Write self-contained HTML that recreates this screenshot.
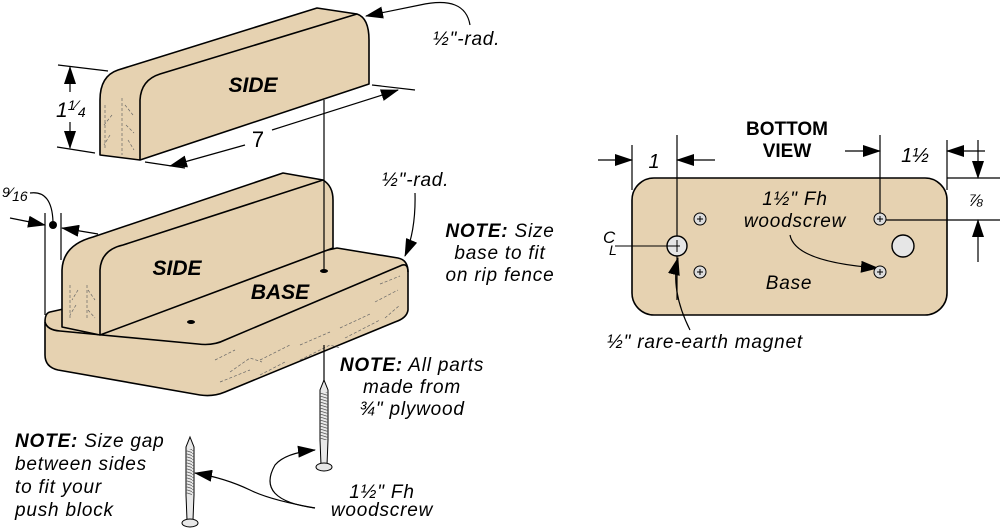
<!DOCTYPE html>
<html><head><meta charset="utf-8"><style>
html,body{margin:0;padding:0;background:#fff;}
svg{display:block;font-family:"Liberation Sans",sans-serif;}
.it{font-style:italic;}
.b{font-weight:bold;}
.w{letter-spacing:0.8px;}
</style></head><body>
<svg width="1000" height="529" viewBox="0 0 1000 529" xmlns="http://www.w3.org/2000/svg">
<defs>
<marker id="ahb" markerWidth="18" markerHeight="12" refX="17" refY="6" orient="auto" markerUnits="userSpaceOnUse" viewBox="0 0 18 12">
<path d="M0,0 L18,6 L0,12 Z" fill="#000"/></marker>
<pattern id="thr" width="8" height="3" patternUnits="userSpaceOnUse"><path d="M0,0 L8,2.5" stroke="#555" stroke-width="0.8"/></pattern>
</defs>
<g fill="#e6d2b1" stroke="#000" stroke-width="1.6" stroke-linejoin="round">
<path d="M100,155 L100,100 Q100,76 118,70 L317,8 L357,14 Q369,18 369,40 L369,84 L140,160 Z"/>
<path d="M140,160 L140,100 Q141,80 160,74 L357,14" fill="none"/>
<path d="M50,312 L337,248 L398,258 Q408,260 408,272 L408,310 Q407,318 395,322 L225,392 Q213,397 200,395 L58,370 Q45,367 45,355 L45,322 Q45,313 50,312 Z"/>
<path d="M45,322 Q47,330 60,331 L198,344 Q213,346 225,340 L400,266 Q408,262 408,272" fill="none"/>
<path d="M62,327 L62,270 Q63,245 93,237 L283,173 L323,180 Q333,186 333,200 L333,248 L100,335 Z"/>
<path d="M100,335 L100,270 Q101,250 123,245 L323,180" fill="none"/>
</g>
<g stroke="#666" stroke-width="0.7" fill="none" stroke-dasharray="3,2">
<path d="M105,105 L105,150 M112,115 L104,125 M110,135 L104,145 M122,98 L122,155 M125,105 L133,115 M126,125 L134,133 M128,140 L134,150"/>
<path d="M70,285 L70,320 M78,290 L72,300 M76,305 L70,315 M87,285 L87,320 M88,290 L95,300 M88,310 L95,318"/>
<path d="M215,360 L235,350 M230,372 L250,358 L262,362 M260,360 L290,345 M300,345 L330,332 M340,328 L370,314 M375,302 L398,290 M380,284 L400,276 M220,382 L250,370 M260,375 L285,362 M300,360 L330,345 L340,348 M345,338 L380,320 M385,318 L400,305"/>
</g>
<ellipse cx="324" cy="271" rx="4" ry="2" fill="#000"/>
<ellipse cx="191" cy="322" rx="4" ry="2" fill="#000"/>
<g stroke="#000" stroke-width="1.2" fill="none">
<line x1="324" y1="100" x2="324" y2="270"/>
<line x1="324" y1="345" x2="324" y2="382"/>
<line x1="145" y1="162" x2="185" y2="168"/>
<line x1="372" y1="85" x2="415" y2="90"/>
<line x1="245" y1="145" x2="170" y2="166" marker-end="url(#ahb)"/>
<line x1="272" y1="130" x2="398" y2="90" marker-end="url(#ahb)"/>
<line x1="58" y1="65" x2="108" y2="71"/>
<line x1="57" y1="147" x2="95" y2="153"/>
<line x1="70" y1="92" x2="70" y2="67" marker-end="url(#ahb)"/>
<line x1="70" y1="122" x2="70" y2="148" marker-end="url(#ahb)"/>
<line x1="45" y1="213" x2="45" y2="315"/>
<line x1="61" y1="213" x2="61" y2="260"/>
<line x1="10" y1="218" x2="45" y2="225" marker-end="url(#ahb)"/>
<line x1="98" y1="234" x2="62" y2="228" marker-end="url(#ahb)"/>
<path d="M30,193 Q52,190 53,222"/>
<path d="M470,25 Q465,-5 420,5 Q395,10 366,16" marker-end="url(#ahb)"/>
<path d="M415,193 Q416,230 405,256" marker-end="url(#ahb)"/>
<path d="M315,508 Q255,500 275,465 Q285,453 315,450" marker-end="url(#ahb)"/>
<path d="M315,508 Q270,500 250,490 Q225,478 195,473" marker-end="url(#ahb)"/>
</g>
<circle cx="53" cy="225" r="4" fill="#000"/>
<g stroke="#000" stroke-width="1">
<path d="M324,380 L328,390 L328,440 L327,465 L321,465 L320,440 L320,390 Z" fill="#e8e8e8"/>
<rect x="320" y="392" width="8" height="48" fill="url(#thr)" stroke="none"/>
<ellipse cx="324" cy="467" rx="8" ry="4" fill="#e8e8e8"/>
<path d="M190,437 L194,447 L194,495 L193,520 L187,520 L186,495 L186,447 Z" fill="#e8e8e8"/>
<rect x="186" y="449" width="8" height="46" fill="url(#thr)" stroke="none"/>
<ellipse cx="190" cy="523" rx="8" ry="4" fill="#e8e8e8"/>
</g>
<g fill="#000">
<text x="253" y="92" class="b it" font-size="21" text-anchor="middle">SIDE</text>
<text x="177" y="275" class="b it" font-size="21" text-anchor="middle">SIDE</text>
<text x="280" y="299" class="b it" font-size="21" text-anchor="middle">BASE</text>
<text x="258" y="147" font-size="22" text-anchor="middle">7</text>
<text x="56" y="117" class="it" font-size="21">1<tspan font-size="14" dy="-7">1</tspan><tspan font-size="14">⁄</tspan><tspan font-size="14" dy="7">4</tspan></text>
<text x="2" y="201" class="it" font-size="14"><tspan dy="-4">9</tspan>⁄<tspan dy="4">16</tspan></text>
<text x="433" y="45" class="it w" font-size="19">½"-rad.</text>
<text x="382" y="186" class="it w" font-size="19">½"-rad.</text>
<g class="it w" font-size="19" text-anchor="middle">
<text x="500" y="237"><tspan class="b">NOTE:</tspan> Size</text>
<text x="500" y="259">base to fit</text>
<text x="500" y="281">on rip fence</text>
<text x="412" y="371"><tspan class="b">NOTE:</tspan> All parts</text>
<text x="412" y="393">made from</text>
<text x="412" y="415">¾" plywood</text>
<text x="382" y="498">1½" Fh</text>
<text x="382" y="516">woodscrew</text>
</g>
<g class="it w" font-size="19">
<text x="15" y="447"><tspan class="b">NOTE:</tspan> Size gap</text>
<text x="15" y="470">between sides</text>
<text x="15" y="493">to fit your</text>
<text x="15" y="516">push block</text>
</g>
</g>
<rect x="632" y="178" width="315" height="137" rx="22" fill="#e6d2b1" stroke="#000" stroke-width="1.6"/>
<g stroke="#000" stroke-width="1.2" fill="none">
<line x1="632" y1="145" x2="632" y2="190"/>
<line x1="677" y1="135" x2="677" y2="300"/>
<line x1="598" y1="160" x2="632" y2="160" marker-end="url(#ahb)"/>
<line x1="715" y1="160" x2="677" y2="160" marker-end="url(#ahb)"/>
<line x1="880" y1="135" x2="880" y2="220"/>
<line x1="947" y1="140" x2="947" y2="190"/>
<line x1="845" y1="151" x2="880" y2="151" marker-end="url(#ahb)"/>
<line x1="985" y1="151" x2="947" y2="151" marker-end="url(#ahb)"/>
<line x1="947" y1="178" x2="1000" y2="178"/>
<line x1="880" y1="220" x2="1000" y2="220"/>
<line x1="978" y1="140" x2="978" y2="178" marker-end="url(#ahb)"/>
<line x1="978" y1="262" x2="978" y2="220" marker-end="url(#ahb)"/>
<path d="M790,235 Q795,262 878,268" marker-end="url(#ahb)"/>
<path d="M690,330 Q670,290 678,258" marker-end="url(#ahb)"/>
</g>
<circle cx="677" cy="246" r="10" fill="#e6e6e6" stroke="#000" stroke-width="1.4"/>
<line x1="615" y1="246" x2="680" y2="246" stroke="#000" stroke-width="1"/>
<line x1="677" y1="240" x2="677" y2="252" stroke="#000" stroke-width="1"/>
<circle cx="903" cy="246" r="11" fill="#e6e6e6" stroke="#000" stroke-width="1.4"/>
<g stroke="#000" stroke-width="1" fill="#ddd">
<circle cx="700" cy="219" r="6"/><circle cx="700" cy="272" r="6"/>
<circle cx="880" cy="219" r="6"/><circle cx="880" cy="272" r="6"/>
</g>
<g stroke="#000" stroke-width="1">
<path d="M697,219 h6 M700,216 v6 M697,272 h6 M700,269 v6 M877,219 h6 M880,216 v6 M877,272 h6 M880,269 v6"/>
</g>
<g fill="#000">
<text x="787" y="135" class="b" font-size="19" text-anchor="middle">BOTTOM</text>
<text x="787" y="157" class="b" font-size="19" text-anchor="middle">VIEW</text>
<text x="654" y="168" class="it" font-size="20" text-anchor="middle">1</text>
<text x="915" y="162" class="it" font-size="20" text-anchor="middle">1½</text>
<text x="969" y="206" class="it" font-size="17">⅞</text>
<text x="603" y="243" font-size="17" class="it">C</text>
<text x="609" y="255" font-size="14" class="it">L</text>
<text x="795" y="205" class="it w" font-size="19" text-anchor="middle">1½" Fh</text>
<text x="795" y="227" class="it w" font-size="19" text-anchor="middle">woodscrew</text>
<text x="789" y="289" class="it w" font-size="19" text-anchor="middle">Base</text>
<text x="607" y="348" class="it w" font-size="19">½"  rare-earth magnet</text>
</g>
</svg>
</body></html>
